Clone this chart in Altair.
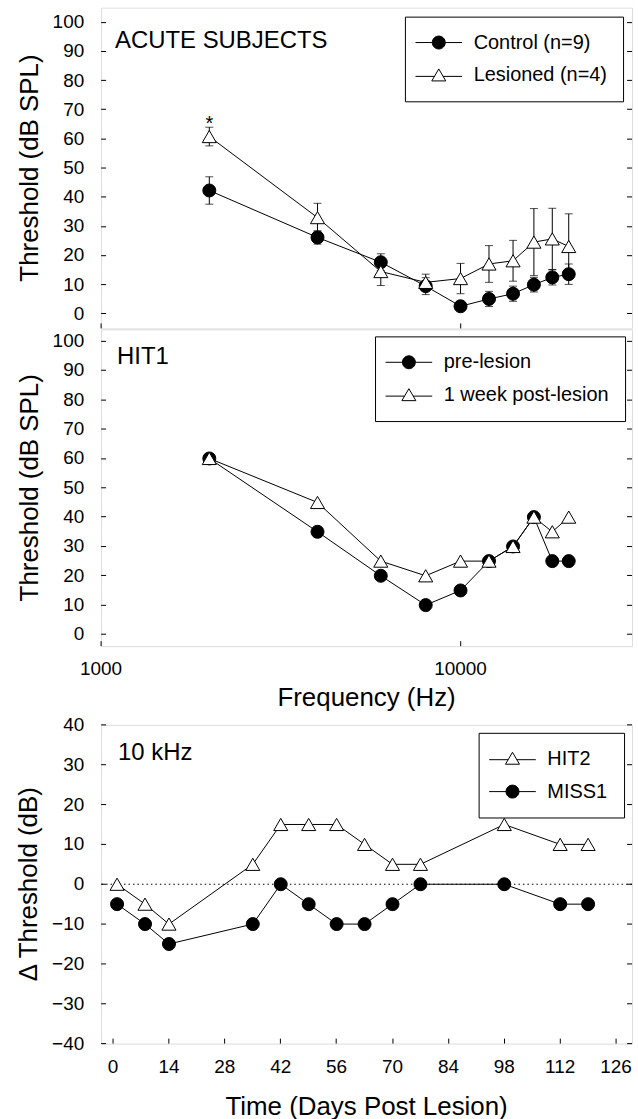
import altair as alt
import pandas as pd

FONT = "Liberation Sans"

# ---------------- data ----------------
freqs = [2000, 4000, 6000, 8000, 10000, 12000, 14000, 16000, 18000, 20000]
control_mean = [42.3, 26.2, 17.7, 9.5, 2.6, 5.1, 6.9, 10.0, 12.5, 13.6]
control_err = [4.7, 2.3, 2.9, 2.9, 1.0, 2.6, 2.6, 2.5, 2.6, 3.5]
lesioned_mean = [60.8, 33.0, 14.5, 10.8, 12.1, 17.1, 18.2, 24.6, 25.7, 23.1]
lesioned_err = [3.2, 4.9, 4.8, 2.8, 5.2, 6.3, 7.0, 11.5, 10.5, 11.2]
star_freq = [2000]
star_value = [66.7]
star_text = ["*"]

hit1_pre = [60, 35, 20, 10, 15, 25, 30, 40, 25, 25]
hit1_post = [60, 45, 25, 20, 25, 25, 30, 40, 35, 40]

days = [1, 8, 14, 35, 42, 49, 56, 63, 70, 77, 98, 112, 119]
hit2 = [0, -5, -10, 5, 15, 15, 15, 10, 5, 5, 15, 10, 10]
miss1 = [-5, -10, -15, -10, 0, -5, -10, -10, -5, 0, 0, -5, -5]

labels_a = ["Control (n=9)", "Lesioned (n=4)"]
labels_b = ["pre-lesion", "1 week post-lesion"]
labels_c = ["HIT2", "MISS1"]
panel_titles = ["ACUTE SUBJECTS", "HIT1", "10 kHz"]

freq_ticks = [1000, 10000]
thr_ticks = list(range(0, 101, 10))
delta_ticks = list(range(-40, 41, 10))
day_ticks = list(range(0, 127, 14))
zero_line = [0]

# ---------------- tables ----------------
df_a = pd.DataFrame({
    "freq": freqs * 2,
    "value": control_mean + lesioned_mean,
    "err": control_err + lesioned_err,
    "series": [labels_a[0]] * len(freqs) + [labels_a[1]] * len(freqs),
})
df_a["lo"] = df_a["value"] - df_a["err"]
df_a["hi"] = df_a["value"] + df_a["err"]
caps_a = pd.concat([
    pd.DataFrame({"freq": df_a["freq"], "cap": df_a["lo"]}),
    pd.DataFrame({"freq": df_a["freq"], "cap": df_a["hi"]}),
])
star_df = pd.DataFrame({"freq": star_freq, "value": star_value, "t": star_text})

df_b = pd.DataFrame({
    "freq": freqs * 2,
    "value": hit1_pre + hit1_post,
    "series": [labels_b[0]] * len(freqs) + [labels_b[1]] * len(freqs),
})

df_c = pd.DataFrame({
    "day": days * 2,
    "value": miss1 + hit2,
    "series": [labels_c[1]] * len(days) + [labels_c[0]] * len(days),
})
zero_df = pd.DataFrame({"y": zero_line})

# ---------------- styling helpers ----------------
TICKIN = {"expr": "-5"}
CIRCLE_PATH = "M-3.6,0L-1,0M1,0L3.6,0M-1,0A1,1,0,1,1,1,0A1,1,0,1,1,-1,0Z"
TRI_PATH = "M-3.6,0.15L-0.66,0.15M0.66,0.15L3.6,0.15M0,-1L1.08,0.85L-1.08,0.85Z"


def axis(**kw):
    base = dict(labelFont=FONT, labelFontSize=19, labelColor="black",
                titleFont=FONT, titleFontSize=26, titleColor="black",
                titleFontWeight="normal", tickColor="black", tickWidth=1,
                tickSize=TICKIN, domain=False, grid=False, translate=0,
                labelFlush=False, labelOverlap=False)
    base.update(kw)
    return alt.Axis(**base)


def legend(off):
    return alt.Legend(title=None, orient="top-right", offset=off,
                      symbolSize=169, symbolStrokeWidth=1,
                      symbolStrokeColor="black", labelFont=FONT,
                      labelFontSize=20, labelColor="black", labelLimit=400,
                      strokeColor="black", fillColor="white", padding=16,
                      rowPadding=13, symbolOffset=8, labelOffset=25)


W = 533


def panel(df, x_enc, y_scale, y_left, y_right, dom, circle_label, leg,
          title_text, title_xy, height, caps=None, star=None, zero=False):
    layers = []
    if zero:
        layers.append(alt.Chart(zero_df).mark_rule(
            color="black", strokeWidth=1, strokeDash=[1.5, 3]).encode(
            y=alt.Y("y:Q", scale=y_scale, axis=None)))
    layers.append(alt.Chart(df).mark_line(color="black", strokeWidth=1).encode(
        x=x_enc, y=alt.Y("value:Q", scale=y_scale, axis=y_left),
        detail="series:N"))
    if caps is not None:
        layers.append(alt.Chart(df).mark_rule(color="black", strokeWidth=1).encode(
            x=x_enc, y=alt.Y("lo:Q", scale=y_scale, axis=None), y2="hi:Q"))
        layers.append(alt.Chart(caps).mark_tick(
            orient="horizontal", size=8, thickness=1, color="black").encode(
            x=x_enc, y=alt.Y("cap:Q", scale=y_scale, axis=None)))
    # circles first, triangles on top
    layers.append(alt.Chart(df).transform_filter(
        alt.datum.series == circle_label).mark_point(
        shape="circle", size=170, fill="black", stroke="black", strokeWidth=1,
        opacity=1, fillOpacity=1).encode(
        x=x_enc, y=alt.Y("value:Q", scale=y_scale, axis=y_right)))
    layers.append(alt.Chart(df).transform_filter(
        alt.datum.series != circle_label).mark_point(
        shape="triangle-up", size=200, fill="white", stroke="black", strokeWidth=1,
        opacity=1, fillOpacity=1).encode(
        x=x_enc, y=alt.Y("value:Q", scale=y_scale, axis=None)))
    # legend-only layer (draws no marks): line + marker symbols
    paths = [CIRCLE_PATH if d == circle_label else TRI_PATH for d in dom]
    fills = ["black" if d == circle_label else "white" for d in dom]
    layers.append(alt.Chart(df).transform_filter("false").mark_point(
        strokeWidth=1, opacity=1, fillOpacity=1).encode(
        x=x_enc, y=alt.Y("value:Q", scale=y_scale, axis=None),
        shape=alt.Shape("series:N", scale=alt.Scale(domain=dom, range=paths), legend=leg),
        fill=alt.Fill("series:N", scale=alt.Scale(domain=dom, range=fills), legend=leg),
        stroke=alt.Stroke("series:N", scale=alt.Scale(domain=dom, range=["black", "black"]),
                          legend=leg)))
    if star is not None:
        layers.append(alt.Chart(star).mark_text(
            font=FONT, fontSize=20, color="black", dy=5).encode(
            x=x_enc, y=alt.Y("value:Q", scale=y_scale, axis=None), text="t:N"))
    layers.append(alt.Chart(pd.DataFrame({"t": [title_text]})).mark_text(
        font=FONT, fontSize=24, color="black", align="left",
        baseline="alphabetic").encode(
        x=alt.value(title_xy[0]), y=alt.value(title_xy[1]), text="t:N"))
    return alt.layer(*layers).resolve_axis(y="independent").properties(
        width=W, height=height)


freq_scale = alt.Scale(type="log", domain=[1000, 30000], nice=False)
thr_scale_a = alt.Scale(domain=[-5, 105], nice=False, zero=False)
thr_scale_b = alt.Scale(domain=[-4, 104], nice=False, zero=False)
delta_scale = alt.Scale(domain=[-40, 40], nice=False, zero=False)
day_scale = alt.Scale(domain=[-3, 130], nice=False, zero=False)

x_top = alt.X("freq:Q", scale=freq_scale,
              axis=axis(orient="bottom", values=freq_ticks, labels=False, title=None))
x_mid = alt.X("freq:Q", scale=freq_scale,
              axis=axis(orient="bottom", values=freq_ticks, format="d",
                        title="Frequency (Hz)", labelPadding=19, titlePadding=6))
x_bot = alt.X("day:Q", scale=day_scale,
              axis=axis(orient="bottom", values=day_ticks, format="d",
                        title="Time (Days Post Lesion)", labelPadding=20, titlePadding=17))


def yl(title, vals):
    return axis(orient="left", values=vals, title=title, labelPadding=22, titlePadding=10)


def yr(vals):
    return axis(orient="right", values=vals, labels=False, title=None)


top = panel(df_a, x_top, thr_scale_a, yl("Threshold (dB SPL)", thr_ticks), yr(thr_ticks),
            labels_a, labels_a[0], legend(9),
            panel_titles[0], (14, 40), 322, caps=caps_a, star=star_df)
mid = panel(df_b, x_mid, thr_scale_b, yl("Threshold (dB SPL)", thr_ticks), yr(thr_ticks),
            labels_b, labels_b[0], legend(7),
            panel_titles[1], (16, 35), 318)
bot = panel(df_c, x_bot, delta_scale, yl("\u0394 Threshold (dB)", delta_ticks), yr(delta_ticks),
            labels_c, labels_c[1], legend(8),
            panel_titles[2], (17, 35), 320, zero=True)

RES = dict(x="independent", y="independent", shape="independent",
           fill="independent", stroke="independent")
upper = alt.vconcat(top, mid, spacing=-4).resolve_scale(**RES)
chart = alt.vconcat(upper, bot, spacing=3).resolve_scale(**RES).properties(
    padding={"left": 15.5, "top": 4.5, "right": 5, "bottom": 0}
).configure_view(stroke="black", strokeWidth=1).configure(background="white")

chart.save("out.html", embed_options={"renderer": "svg", "actions": False})
